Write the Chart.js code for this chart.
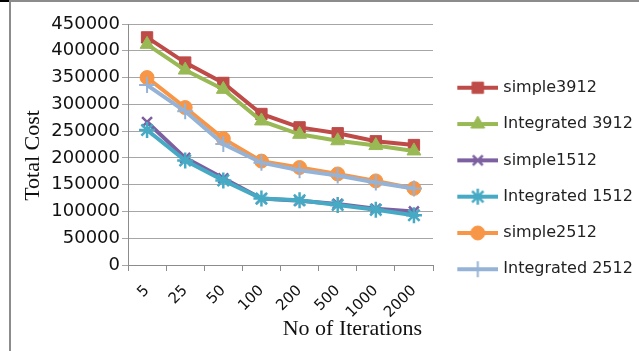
<!DOCTYPE html>
<html>
<head>
<meta charset="utf-8">
<script src="https://cdn.jsdelivr.net/npm/chart.js@4/dist/chart.umd.min.js"></script>
<style>
    body { margin: 0; background: #fff; }
    #wrap { position: relative; width: 639px; height: 351px; }
    #frame { position: absolute; left: 9px; top: 0; width: 630px; height: 351px;
             border-left: 2px solid #8c8c8c; border-top: 2px solid #8c8c8c;
             box-sizing: border-box; pointer-events: none; }
    #corner { position: absolute; left: 0; top: 0; width: 9px; height: 2px; background: #000; }
</style>
</head>
<body>
<div id="wrap">
    <canvas id="cost-chart" width="639" height="351"></canvas>
    <div id="frame"></div>
    <div id="corner"></div>
</div>
<script>
// Iterations on the x axis
var iterations = ['5', '25', '50', '100', '200', '500', '1000', '2000'];

// Total cost per series
var simple3912 = [425000, 378000, 340000, 282000, 257000, 246000, 231000, 224000];
var integrated3912 = [412000, 364000, 328000, 269000, 244000, 232000, 223000, 213000];
var simple1512 = [267000, 200000, 162000, 124000, 120000, 114000, 105000, 100000];
var integrated1512 = [252000, 195000, 158000, 124000, 121000, 112000, 103000, 93000];
var simple2512 = [350000, 294000, 236000, 194000, 182000, 170000, 157000, 143000];
var integrated2512 = [336000, 287000, 226000, 191000, 177000, 167000, 154000, 143000];

var yMin = 0, yMax = 450000, yStep = 50000;

// Build a small "line + marker" picture for each legend entry
function legendIcon(color, style, radius, width) {
    var c = document.createElement('canvas');
    c.width = 48;
    c.height = 18;
    var ctx = c.getContext('2d');
    ctx.strokeStyle = color;
    ctx.lineWidth = 4;
    ctx.beginPath();
    ctx.moveTo(7, 9);
    ctx.lineTo(48, 9);
    ctx.stroke();
    ctx.fillStyle = color;
    ctx.lineWidth = width;
    Chart.helpers.drawPoint(ctx, { pointStyle: style, radius: radius, rotation: 0, borderWidth: width }, 27.5, 9);
    return c;
}

function series(label, data, color, style, radius, width, order) {
    return {
        label: label,
        data: data,
        borderColor: color,
        backgroundColor: color,
        borderWidth: 4,
        pointStyle: style,
        pointRadius: radius,
        pointBorderWidth: width,
        pointBorderColor: color,
        pointBackgroundColor: color,
        tension: 0,
        order: order,
        icon: legendIcon(color, style, radius, width)
    };
}

var datasets = [
    series('simple3912', simple3912, '#BE4B48', 'rect', 8, 1, 6),
    series('Integrated 3912', integrated3912, '#98B954', 'triangle', 8, 1, 5),
    series('simple1512', simple1512, '#7D60A0', 'crossRot', 7, 2.5, 4),
    series('Integrated 1512', integrated1512, '#46AAC5', 'star', 8, 2.5, 3),
    series('simple2512', simple2512, '#F79646', 'circle', 7, 1, 2),
    series('Integrated 2512', integrated2512, '#95B3D7', 'cross', 8, 2, 1)
];

// Legend sits a little higher than Chart.js centres it
var legendShift = {
    id: 'legendShift',
    afterLayout: function(chart) {
        chart.legend.top -= 9;
        chart.legend.bottom -= 9;
    }
};

document.addEventListener('DOMContentLoaded', function() {
    var ctx = document.getElementById('cost-chart').getContext('2d');
    new Chart(ctx, {
        type: 'line',
        data: { labels: iterations, datasets: datasets },
        plugins: [legendShift],
        options: {
            responsive: false,
            animation: false,
            layout: { padding: { left: 12, top: 24, right: 0, bottom: 0 } },
            plugins: {
                tooltip: { enabled: false },
                legend: {
                    position: 'right',
                    maxWidth: 206,
                    reverse: true,
                    labels: {
                        usePointStyle: true,
                        pointStyleWidth: 42,
                        padding: 20.3,
                        color: '#222',
                        font: { family: 'DejaVu Sans', size: 16 },
                        generateLabels: function(chart) {
                            var items = Chart.defaults.plugins.legend.labels.generateLabels(chart);
                            items.forEach(function(item) {
                                item.pointStyle = chart.data.datasets[item.datasetIndex].icon;
                            });
                            return items;
                        }
                    }
                }
            },
            scales: {
                x: {
                    offset: true,
                    afterFit: function(scale) { scale.height = 86; },
                    grid: { offset: true, drawOnChartArea: false, tickLength: 6, color: '#8c8c8c' },
                    border: { color: '#8c8c8c' },
                    ticks: {
                        autoSkip: false,
                        minRotation: 45,
                        maxRotation: 45,
                        padding: 11,
                        color: '#111',
                        font: { family: 'DejaVu Sans', size: 15 }
                    },
                    title: {
                        display: true,
                        text: 'No of Iterations  ',
                        align: 'end',
                        color: '#111',
                        padding: { top: 0, bottom: 9 },
                        font: { family: 'Liberation Serif', size: 22 }
                    }
                },
                y: {
                    min: yMin,
                    max: yMax,
                    afterFit: function(scale) { scale.width = 116; },
                    grid: { color: '#a6a6a6', tickLength: 6 },
                    border: { color: '#8c8c8c' },
                    ticks: {
                        stepSize: yStep,
                        padding: 2,
                        color: '#111',
                        font: { family: 'DejaVu Sans', size: 18 },
                        callback: function(value) { return String(value); }
                    },
                    title: {
                        display: true,
                        text: 'Total Cost    ',
                        color: '#111',
                        padding: { top: 8, bottom: 0 },
                        font: { family: 'Liberation Serif', size: 22 }
                    }
                }
            }
        }
    });
});
</script>
</body>
</html>
